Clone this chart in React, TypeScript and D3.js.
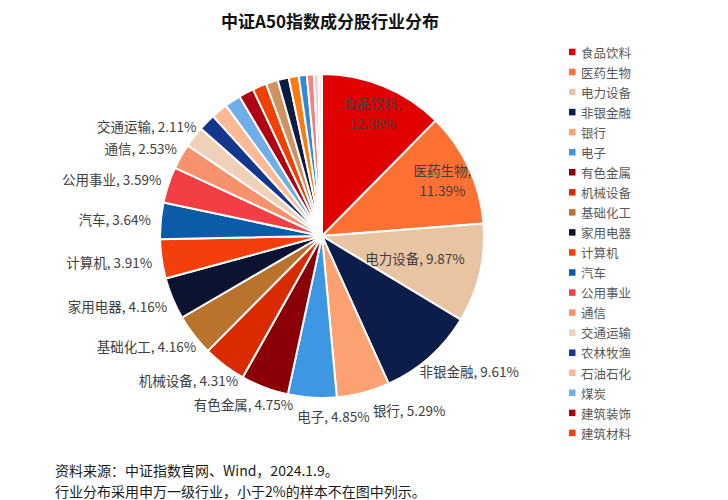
import React, { useEffect, useRef } from 'react';
import * as d3 from 'd3';

const industries = [
  '食品饮料', '医药生物', '电力设备', '非银金融', '银行', '电子', '有色金属', '机械设备', '基础化工', '家用电器',
  '计算机', '汽车', '公用事业', '通信', '交通运输', '农林牧渔', '石油石化', '煤炭', '建筑装饰', '建筑材料',
  '钢铁', '国防军工', '传媒', '轻工制造', '美容护理', '社会服务', '环保',
];
const weights = [
  12.38, 11.39, 9.87, 9.61, 5.29, 4.85, 4.75, 4.31, 4.16, 4.16,
  3.91, 3.64, 3.59, 2.53, 2.11, 1.7, 1.65, 1.6, 1.5, 1.4,
  1.2, 1.1, 1.0, 0.8, 0.7, 0.45, 0.35,
];
const colors = [
  '#E00000', '#FF7033', '#E9C4A2', '#0C1D4A', '#FBA172', '#3D97E2', '#8B0006', '#DA2A00', '#B9732D', '#0B1330',
  '#F23F0C', '#0B5BA9', '#F23E44', '#F6916B', '#F0D0B9', '#15368D', '#FDB993', '#6FAFE9', '#B10014', '#F14100',
  '#D19262', '#0B1B42', '#FF7B12', '#2F87DF', '#F28282', '#F9C9C1', '#FCE6DE',
];
const legendCount = 20;
const title = '中证A50指数成分股行业分布';
const notes = ['资料来源：中证指数官网、Wind，2024.1.9。', '行业分布采用申万一级行业，小于2%的样本不在图中列示。'];

const FONT = '"Noto Sans CJK SC", "Noto Sans", sans-serif';

type Box = { x0: number; x1: number; y0: number; y1: number };

const App: React.FC = () => {
  const svgRef = useRef<SVGSVGElement>(null);

  useEffect(() => {
    if (!svgRef.current) return;
    const svg = d3.select(svgRef.current);
    svg.selectAll('*').remove();

    const W = 728, H = 500;
    const cx = 322, cy = 236, R = 162;

    svg.append('rect').attr('width', W).attr('height', H).attr('fill', '#fff');

    svg.append('text')
      .attr('x', 330).attr('y', 20)
      .attr('text-anchor', 'middle').attr('dominant-baseline', 'central')
      .style('font-family', FONT).style('font-size', '17px').style('font-weight', 'bold')
      .attr('fill', '#111')
      .text(title);

    const arcs = d3.pie<number>().sort(null).value(d => d)(weights);
    const arc = d3.arc<d3.PieArcDatum<number>>().innerRadius(0).outerRadius(R);

    const g = svg.append('g').attr('transform', `translate(${cx},${cy})`);
    g.selectAll('path')
      .data(arcs)
      .join('path')
      .attr('d', arc)
      .attr('fill', (_, i) => colors[i])
      .attr('stroke', '#fff')
      .attr('stroke-width', 2);

    // Data labels (>= 2%)
    const labelG = g.append('g')
      .style('font-family', FONT).style('font-size', '13.5px').attr('fill', '#404040');

    const placed: Box[] = [];
    const overlaps = (b: Box) => placed.some(p => !(b.x1 + 3 <= p.x0 || b.x0 >= p.x1 + 3 || b.y1 <= p.y0 || b.y0 >= p.y1));

    const labelled = arcs.map((a, i) => ({ a, i })).filter(d => weights[d.i] >= 2);

    // inside labels
    labelled.filter(d => d.i < 3).forEach(({ a, i }) => {
      const mid = (a.startAngle + a.endAngle) / 2;
      const wrap = i < 2;
      const rho = R * (wrap ? 0.82 : 0.59);
      const x = Math.sin(mid) * rho, y = -Math.cos(mid) * rho;
      const lines = wrap ? [`${industries[i]},`, `${weights[i].toFixed(2)}%`] : [`${industries[i]}, ${weights[i].toFixed(2)}%`];
      lines.forEach((line, k) => {
        labelG.append('text')
          .attr('x', x).attr('y', y + (k - (lines.length - 1) / 2) * 19.5)
          .attr('text-anchor', 'middle').attr('dominant-baseline', 'central')
          .text(line);
      });
    });

    // outside labels, placed from the last one backwards, nudged when colliding
    labelled.filter(d => d.i >= 3).reverse().forEach(({ a, i }) => {
      const mid = (a.startAngle + a.endAngle) / 2;
      const s = Math.sin(mid), c = -Math.cos(mid);
      const t = labelG.append('text').attr('text-anchor', 'middle').attr('dominant-baseline', 'central')
        .text(`${industries[i]}, ${weights[i].toFixed(2)}%`);
      const w = (t.node() as SVGTextElement).getComputedTextLength();
      const hw = w / 2 + 2, hh = 10;
      let x = s * (R + 8) + s * hw;
      let y = c * (R + 8) + c * hh;
      const box = () => ({ x0: x - w / 2, x1: x + w / 2, y0: y - 7, y1: y + 7 });
      let guard = 0;
      while (overlaps(box()) && guard++ < 200) {
        if (Math.abs(c) > 0.7) x += c > 0 ? 1 : -1;
        else y += s > 0 ? -1 : 1;
      }
      placed.push(box());
      t.attr('x', x).attr('y', y);
    });

    // Legend
    const legend = svg.append('g');
    industries.slice(0, legendCount).forEach((name, i) => {
      const y = 51.7 + i * 20.05;
      legend.append('rect').attr('x', 569).attr('y', y - 3).attr('width', 6.5).attr('height', 6.5).attr('fill', colors[i]);
      legend.append('text')
        .attr('x', 581).attr('y', y + 0.5).attr('dominant-baseline', 'central')
        .style('font-family', FONT).style('font-size', '12.5px').attr('fill', '#595959')
        .text(name);
    });

    // Notes
    notes.forEach((line, i) => {
      svg.append('text')
        .attr('x', 55).attr('y', 470 + i * 21).attr('dominant-baseline', 'central')
        .style('font-family', FONT).style('font-size', '14px').attr('fill', '#1a1a1a')
        .text(line);
    });
  }, []);

  return (
    <svg ref={svgRef} width={728} height={500} style={{ position: 'absolute', left: 0, top: 0, display: 'block' }} />
  );
};

export default App;
